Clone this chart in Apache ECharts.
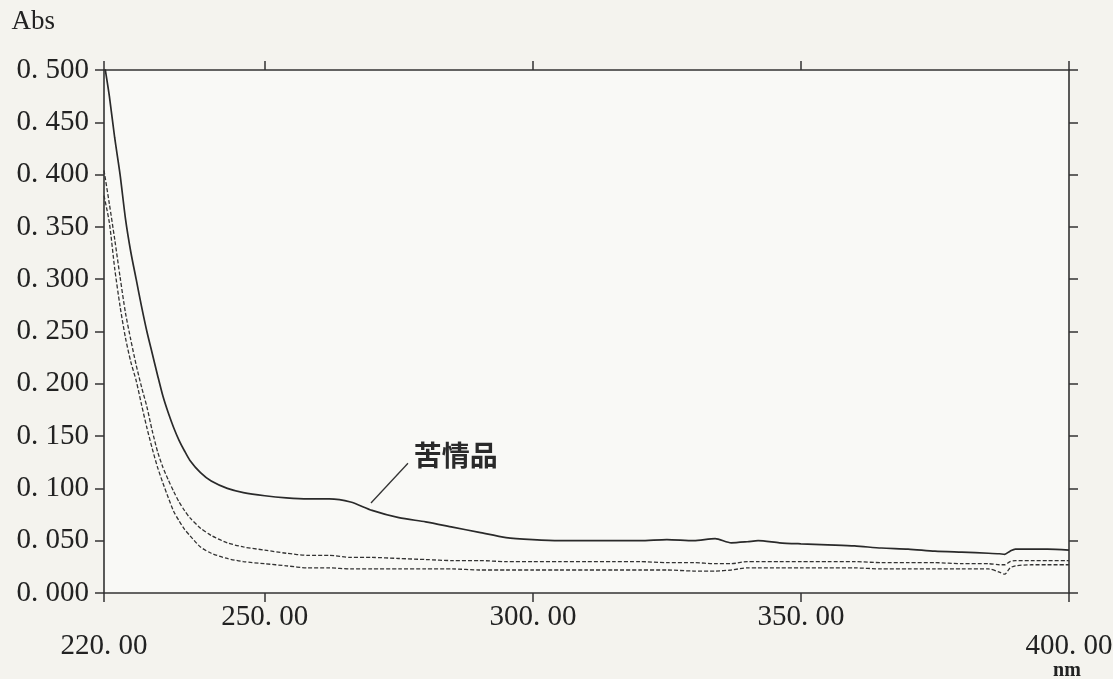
<!DOCTYPE html>
<html>
<head>
<meta charset="utf-8">
<script src="https://cdn.jsdelivr.net/npm/echarts@6/dist/echarts.min.js"></script>
<style>
html,body{margin:0;padding:0;background:#f4f3ee;}
#c{width:1113px;height:679px;}
</style>
</head>
<body>
<div id="c"></div>
<script>
// Wavelength (nm)
var wavelengths = [220,221,222,223,224,225,226,227,228,229,230,231,232,233,234,235,236,238,240,243,246,250,254,258,262,266,270,275,280,285,290,295,300,305,310,315,320,325,330,334,337,340,342,346,350,355,360,365,370,375,380,385,387,388,389,390,393,396,400];
// 苦情品 (solid)
var solidAbs = [0.508,0.475,0.435,0.400,0.358,0.326,0.300,0.274,0.250,0.229,0.208,0.188,0.172,0.158,0.146,0.136,0.127,0.115,0.107,0.100,0.096,0.093,0.091,0.090,0.090,0.087,0.079,0.072,0.068,0.063,0.058,0.053,0.051,0.050,0.050,0.050,0.050,0.051,0.050,0.052,0.048,0.049,0.050,0.048,0.047,0.046,0.045,0.043,0.042,0.040,0.039,0.038,0.0375,0.037,0.040,0.042,0.042,0.042,0.041];
// upper dashed
var dashedUpperAbs = [0.404,0.372,0.338,0.302,0.268,0.242,0.218,0.197,0.178,0.155,0.135,0.120,0.108,0.097,0.087,0.079,0.072,0.062,0.055,0.048,0.044,0.041,0.038,0.036,0.036,0.034,0.034,0.033,0.032,0.031,0.031,0.030,0.030,0.030,0.030,0.030,0.030,0.029,0.029,0.028,0.028,0.030,0.030,0.030,0.030,0.030,0.030,0.029,0.029,0.029,0.028,0.028,0.027,0.027,0.030,0.031,0.031,0.031,0.031];
// lower dashed
var dashedLowerAbs = [0.380,0.354,0.310,0.274,0.244,0.221,0.203,0.180,0.158,0.138,0.120,0.105,0.091,0.078,0.069,0.061,0.055,0.044,0.038,0.033,0.030,0.028,0.026,0.024,0.024,0.023,0.023,0.023,0.023,0.023,0.022,0.022,0.022,0.022,0.022,0.022,0.022,0.022,0.021,0.021,0.022,0.024,0.024,0.024,0.024,0.024,0.024,0.023,0.023,0.023,0.023,0.023,0.020,0.018,0.024,0.026,0.027,0.027,0.027];
// tick labels
var xTickValues = [220,250,300,350,400];
var annotationText = '苦情品';
var annotationLine = [[269.8,0.086],[276.7,0.124]];
var annotationLabelAt = [277.6,0.132];

function pairs(ys){ return wavelengths.map(function(x,i){ return [x, ys[i]]; }); }

var font = 'Liberation Serif';
var axisColor = '#333333';
var chart = echarts.init(document.getElementById('c'));
chart.setOption({
  backgroundColor: '#f4f3ee',
  animation: false,
  grid: {left:104, right:44, top:70, bottom:86, show:true, backgroundColor:'#f9f9f6', borderWidth:0, containLabel:false, outerBoundsMode:'none'},
  xAxis: [{
    type:'value', min:220, max:400, position:'bottom',
    axisLine:{show:true, onZero:false, lineStyle:{color:axisColor, width:1.6}},
    axisTick:{show:true, customValues:xTickValues, length:9, lineStyle:{color:axisColor, width:1.5}},
    axisLabel:{show:true, customValues:xTickValues, margin:10, fontFamily:font, fontSize:29, color:'#222', lineHeight:29, verticalAlign:'top',
      formatter:function(v){ var s=v.toFixed(2).replace('.', '. '); return (v===220||v===400)?'\n'+s:s; }},
    splitLine:{show:false},
    name:'nm', nameLocation:'end', nameGap:-2,
    nameTextStyle:{fontFamily:font, fontSize:20, fontWeight:'bold', color:'#222', align:'center', verticalAlign:'top', padding:[68,0,0,0]}
  },{
    type:'value', min:220, max:400, position:'top',
    axisLine:{show:true, onZero:false, lineStyle:{color:axisColor, width:1.6}},
    axisTick:{show:true, customValues:xTickValues, length:9, lineStyle:{color:axisColor, width:1.5}},
    axisLabel:{show:false}, splitLine:{show:false}
  }],
  yAxis: [{
    type:'value', min:0, max:0.5, interval:0.05, position:'left',
    axisLine:{show:true, onZero:false, lineStyle:{color:axisColor, width:1.6}},
    axisTick:{show:true, length:9, lineStyle:{color:axisColor, width:1.5}},
    axisLabel:{margin:15, fontFamily:font, fontSize:29, color:'#222',
      formatter:function(v){ return v.toFixed(3).replace('.', '. '); }},
    splitLine:{show:false},
    name:'Abs', nameLocation:'end', nameGap:48,
    nameTextStyle:{fontFamily:font, fontSize:27, color:'#222', align:'right', verticalAlign:'middle', padding:[0,49,0,0]}
  },{
    type:'value', min:0, max:0.5, interval:0.05, position:'right',
    axisLine:{show:true, onZero:false, lineStyle:{color:axisColor, width:1.6}},
    axisTick:{show:true, length:9, lineStyle:{color:axisColor, width:1.5}},
    axisLabel:{show:false}, splitLine:{show:false}
  }],
  series: [{
    type:'line', name:annotationText, data:pairs(solidAbs), showSymbol:false, smooth:0.25,
    lineStyle:{color:'#2a2a2a', width:1.7}, z:3,
    markLine:{silent:true, symbol:['none','none'], label:{show:false},
      lineStyle:{color:'#333', width:1.3, type:'solid'},
      data:[[{coord:annotationLine[0]},{coord:annotationLine[1]}]]},
    markPoint:{silent:true, symbol:'circle', symbolSize:2, itemStyle:{color:'rgba(0,0,0,0)'},
      label:{show:true, position:'right', distance:0, formatter:annotationText, fontFamily:'Noto Sans CJK SC', fontSize:28, fontWeight:'bold', color:'#2a2a2a'},
      data:[{coord:annotationLabelAt, value:0}]}
  },{
    type:'line', data:pairs(dashedUpperAbs), showSymbol:false, smooth:0.25,
    lineStyle:{color:'#333333', width:1.3, type:[4,2]}
  },{
    type:'line', data:pairs(dashedLowerAbs), showSymbol:false, smooth:0.25,
    lineStyle:{color:'#333333', width:1.3, type:[4,2]}
  }]
});
</script>
</body>
</html>
